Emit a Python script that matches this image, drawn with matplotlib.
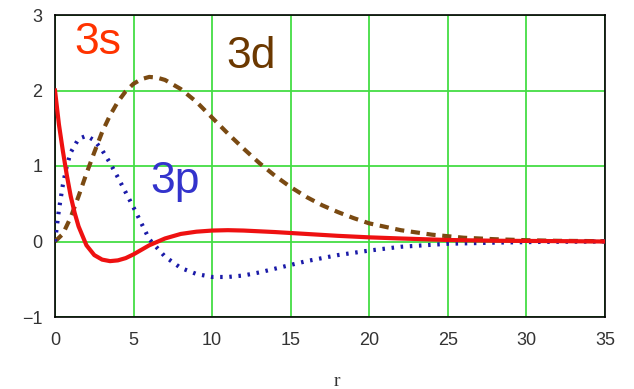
import matplotlib
matplotlib.use("Agg")
import matplotlib.pyplot as plt

# 3s radial function (red, solid)
r_3s = [0, 0.25, 0.5, 0.75, 1, 1.25, 1.5, 2, 2.5, 3, 3.5, 4, 4.5, 5, 5.5, 6, 7, 8, 9, 10, 11, 12, 13, 14, 16, 18, 20, 22, 25, 28, 32, 35]
y_3s = [2.0, 1.55, 1.2, 0.88, 0.6, 0.38, 0.2, -0.05, -0.18, -0.24, -0.26, -0.25, -0.22, -0.17, -0.11, -0.05, 0.04, 0.1, 0.13, 0.145, 0.15, 0.145, 0.135, 0.125, 0.1, 0.075, 0.055, 0.04, 0.02, 0.01, 0.005, 0.0]

# 3p radial function (blue, dotted)
r_3p = [0, 0.25, 0.5, 0.75, 1, 1.5, 2, 2.5, 3, 3.5, 4, 5, 6, 7, 8, 9, 10, 11, 12, 13, 14, 15, 16, 18, 20, 22, 25, 28, 31, 35]
y_3p = [0.0, 0.42, 0.75, 1.0, 1.18, 1.36, 1.4, 1.34, 1.21, 1.04, 0.85, 0.45, 0.03, -0.2, -0.35, -0.43, -0.47, -0.47, -0.45, -0.41, -0.36, -0.31, -0.26, -0.18, -0.12, -0.07, -0.03, -0.015, -0.005, 0.0]

# 3d radial function (brown, dashed)
r_3d = [0, 0.5, 1, 1.5, 2, 2.5, 3, 3.5, 4, 4.5, 5, 5.5, 6, 6.5, 7, 8, 9, 10, 11, 12, 13, 14, 15, 16, 17, 18, 19, 20, 22, 24, 26, 28, 30, 32, 35]
y_3d = [0.0, 0.1, 0.32, 0.6, 0.9, 1.18, 1.45, 1.67, 1.85, 1.99, 2.09, 2.15, 2.18, 2.17, 2.14, 2.02, 1.85, 1.64, 1.43, 1.23, 1.04, 0.87, 0.72, 0.59, 0.48, 0.39, 0.31, 0.24, 0.15, 0.09, 0.05, 0.03, 0.017, 0.009, 0.004]

x_ticks = [0, 5, 10, 15, 20, 25, 30, 35]
y_ticks = [-1, 0, 1, 2, 3]

fig = plt.figure(figsize=(6.34, 3.89), dpi=100)
ax = fig.add_axes([55/634, 1 - 317/389, 550/634, 302/389])

ax.set_xlim(0, 35)
ax.set_ylim(-1, 3)
ax.set_xticks(x_ticks)
ax.set_yticks(y_ticks)
ax.grid(True, color="#44dd44", linewidth=1.3)
ax.set_axisbelow(True)

ax.plot(r_3d, y_3d, color="#7a4a12", linewidth=3, linestyle=(0, (2.2, 1.6)), zorder=3)
ax.plot(r_3p, y_3p, color="#1a1aa8", linewidth=3, linestyle=(0, (0.6, 1.6)), zorder=4)
ax.plot(r_3s, y_3s, color="#ee1111", linewidth=3, zorder=5)

ax.text(98, 389 - 43, "3s", transform=None, color="#ff3300", fontsize=32, family="Liberation Sans",
        ha="center", va="center")
ax.text(251, 389 - 57, "3d", transform=None, color="#6b3800", fontsize=32, family="Liberation Sans",
        ha="center", va="center")
ax.text(175, 389 - 181, "3p", transform=None, color="#3333cc", fontsize=32, family="Liberation Sans",
        ha="center", va="center")

for s in ax.spines.values():
    s.set_color("black")
    s.set_linewidth(1.2)

ax.tick_params(length=0, labelsize=13, labelcolor="#333333")
ax.tick_params(axis="x", pad=11)
ax.tick_params(axis="y", pad=9)
for lab in ax.get_xticklabels() + ax.get_yticklabels():
    lab.set_family("Liberation Sans")
ax.set_yticklabels(["\u22121", "0", "1", "2", "3"])

fig.text(337/634, 1 - 381/389, "r", ha="center", va="center", fontsize=14,
         family="Liberation Serif", color="#333333")

fig.savefig("out.png", dpi=100)
